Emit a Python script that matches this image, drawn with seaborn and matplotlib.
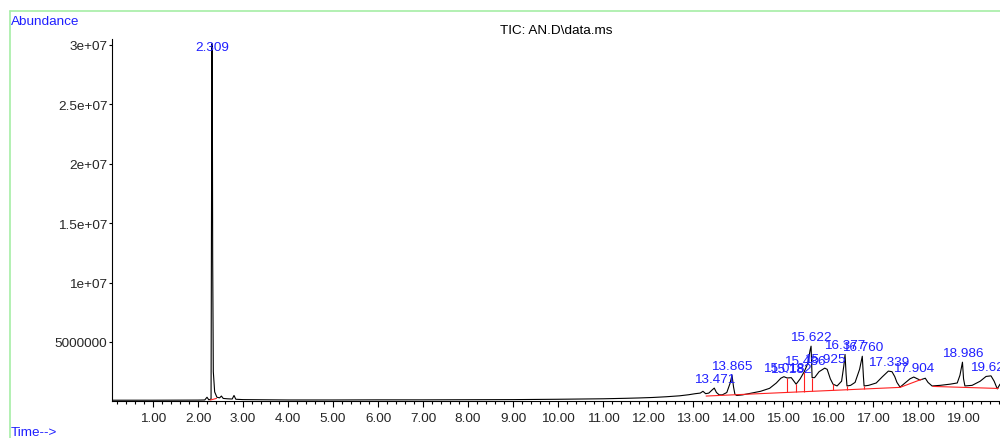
import numpy as np
import matplotlib
matplotlib.use("Agg")
import matplotlib.pyplot as plt
from matplotlib.lines import Line2D
from matplotlib.ticker import FixedLocator, MultipleLocator
import seaborn as sns

# ---------------- data ----------------
times = [0.09, 1.0, 2.0, 2.15, 2.20, 2.24, 2.29, 2.309, 2.318, 2.326, 2.34, 2.37,
         2.42, 2.48, 2.52, 2.56, 2.65, 2.76, 2.80, 2.84, 3.0, 4.0, 5.0, 6.0, 7.0,
         8.0, 9.0, 10.0, 10.5, 11.0, 11.5, 11.8, 12.1, 12.4, 12.7, 12.9, 13.05,
         13.16, 13.22, 13.28, 13.35, 13.42, 13.471, 13.52, 13.58, 13.65, 13.75,
         13.82, 13.865, 13.90, 13.93, 13.97, 14.1, 14.3, 14.5, 14.7, 14.85, 14.95,
         15.018, 15.09, 15.182, 15.29, 15.38, 15.47, 15.55, 15.60, 15.622, 15.645,
         15.70, 15.80, 15.925, 15.98, 16.05, 16.11, 16.20, 16.30, 16.35, 16.377,
         16.40, 16.42, 16.50, 16.60, 16.70, 16.760, 16.785, 16.80, 16.90, 17.07,
         17.20, 17.339, 17.42, 17.48, 17.53, 17.60, 17.71, 17.82, 17.904, 18.04,
         18.16, 18.22, 18.31, 18.49, 18.71, 18.87, 18.93, 18.986, 19.01, 19.04,
         19.2, 19.38, 19.51, 19.62, 19.69, 19.76, 19.82]
abundance = [1.0e5, 1.0e5, 1.1e5, 1.2e5, 3.5e5, 1.3e5, 2.0e5, 3.01e7, 2.70e7, 1.2e7,
             2.5e6, 8.0e5, 3.5e5, 3.0e5, 4.5e5, 2.5e5, 2.2e5, 2.0e5, 5.0e5, 1.8e5,
             1.5e5, 1.2e5, 1.2e5, 1.3e5, 1.3e5, 1.4e5, 1.5e5, 1.8e5, 2.0e5, 2.2e5,
             2.6e5, 2.9e5, 3.3e5, 3.9e5, 4.7e5, 5.6e5, 6.5e5, 7.0e5, 8.5e5, 6.5e5,
             7.0e5, 9.5e5, 1.12e6, 7.5e5, 5.5e5, 5.5e5, 7.5e5, 1.5e6, 2.2e6, 1.2e6,
             6.0e5, 5.0e5, 5.5e5, 7.0e5, 8.5e5, 1.1e6, 1.55e6, 1.95e6, 2.08e6, 1.97e6,
             2.0e6, 1.45e6, 1.9e6, 2.5e6, 3.2e6, 4.3e6, 4.65e6, 2.0e6, 2.0e6, 2.5e6,
             2.8e6, 2.7e6, 1.9e6, 1.45e6, 1.3e6, 1.7e6, 3.0e6, 3.95e6, 2.3e6, 1.3e6,
             1.35e6, 1.6e6, 2.7e6, 3.8e6, 2.1e6, 1.3e6, 1.35e6, 1.55e6, 2.05e6, 2.55e6,
             2.5e6, 2.1e6, 1.6e6, 1.2e6, 1.55e6, 1.9e6, 2.05e6, 1.8e6, 1.95e6, 1.6e6,
             1.3e6, 1.35e6, 1.45e6, 1.55e6, 2.2e6, 3.3e6, 1.9e6, 1.3e6, 1.35e6, 1.7e6,
             2.1e6, 2.15e6, 1.7e6, 1.05e6, 1.45e6]

# integration baselines (red)
baseline_times = [[2.27, 2.41], [13.29, 17.60], [17.60, 18.07], [18.33, 19.78]]
baseline_values = [[1.1e5, 2.5e5], [4.5e5, 1.18e6], [1.18e6, 1.85e6], [1.26e6, 1.09e6]]
drop_times = [15.09, 15.29, 15.47, 15.645, 16.11, 16.42, 16.80]

# peak labels
peak_times = [2.309, 13.471, 13.865, 15.018, 15.182, 15.486, 15.622, 15.925,
              16.377, 16.760, 17.339, 17.904, 18.986, 19.624]
peak_labels = ["2.309", "13.471", "13.865", "15.018", "15.182", "15.486", "15.622",
               "15.925", "16.377", "16.760", "17.339", "17.904", "18.986", "19.624"]

ytick_values = [5e6, 1e7, 1.5e7, 2e7, 2.5e7, 3e7]
ytick_labels = ["5000000", "1e+07", "1.5e+07", "2e+07", "2.5e+07", "3e+07"]
xtick_values = list(range(1, 20))
xtick_labels = [f"{v:.2f}" for v in xtick_values]

title = "TIC: AN.D\\data.ms"

# ---------------- style ----------------
sns.set_style("white")
plt.rcParams["font.family"] = ["Liberation Sans", "DejaVu Sans"]
FS = 9.7
BLUE = "#1f1fff"

W, H = 1000, 439
fig = plt.figure(figsize=(W / 100, H / 100), dpi=100)
ax_left, ax_top, ax_bottom = 112, 40, 402.4
ax = fig.add_axes([ax_left / W, 1 - ax_bottom / H, 1 - ax_left / W, (ax_bottom - ax_top) / H])

sns.lineplot(x=times, y=abundance, ax=ax, color="black", linewidth=0.8,
             estimator=None, sort=False)

for bt, bv in zip(baseline_times, baseline_values):
    sns.lineplot(x=bt, y=bv, ax=ax, color="#ff2020", linewidth=0.8,
                 estimator=None, sort=False)

base_t = np.concatenate(baseline_times)
base_v = np.concatenate(baseline_values)
ax.vlines(drop_times, np.interp(drop_times, base_t, base_v),
          np.interp(drop_times, times, abundance), color="#ff2020", linewidth=0.8)

ax.set_xlim(0.089, 19.82)
ax.set_ylim(0, 3.05e7)

for s in ["top", "right"]:
    ax.spines[s].set_visible(False)
for s in ["left", "bottom"]:
    ax.spines[s].set_color("black")
    ax.spines[s].set_linewidth(0.8)

ax.xaxis.set_major_locator(FixedLocator(xtick_values))
ax.set_xticklabels(xtick_labels)
ax.xaxis.set_minor_locator(MultipleLocator(0.2))
ax.set_yticks(ytick_values)
ax.set_yticklabels(ytick_labels)
ax.tick_params(axis="x", which="major", bottom=True, length=4.3, width=0.8,
               direction="out", pad=3.3, labelsize=FS, color="black")
ax.tick_params(axis="x", which="minor", bottom=True, length=2.2, width=0.8,
               direction="out", color="black")
ax.tick_params(axis="y", which="major", left=True, length=2.5, width=0.8,
               direction="out", pad=0.8, labelsize=FS, color="black")
ax.set_xlabel("")
ax.set_ylabel("")
ax.grid(False)

ymax = ax.get_ylim()[1]
for t, lab in zip(peak_times, peak_labels):
    v = np.interp(t, times, abundance)
    if v > 0.9 * ymax:
        ax.text(t, 0.978, lab, transform=ax.get_xaxis_transform(), ha="center",
                va="center", color=BLUE, fontsize=FS, clip_on=False)
    else:
        ax.annotate(lab, (t, v), xytext=(0, 6.5), textcoords="offset points",
                    ha="center", va="center", color=BLUE, fontsize=FS,
                    annotation_clip=False)

ax.text(0.5, 1.0235, title, transform=ax.transAxes, ha="center", va="center",
        fontsize=FS, color="black")

fig.text(11 / W, 1 - 22 / H, "Abundance", ha="left", va="center", color=BLUE, fontsize=FS)
fig.text(11 / W, 1 - 433 / H, "Time-->", ha="left", va="center", color=BLUE, fontsize=FS)

green = "#a6eea6"
fig.add_artist(Line2D([10 / W, 10 / W], [0, 1 - 12 / H], transform=fig.transFigure,
                      color=green, linewidth=1.2))
fig.add_artist(Line2D([10 / W, 1], [1 - 12 / H, 1 - 12 / H], transform=fig.transFigure,
                      color=green, linewidth=1.2))

fig.savefig("out.png", dpi=100)
